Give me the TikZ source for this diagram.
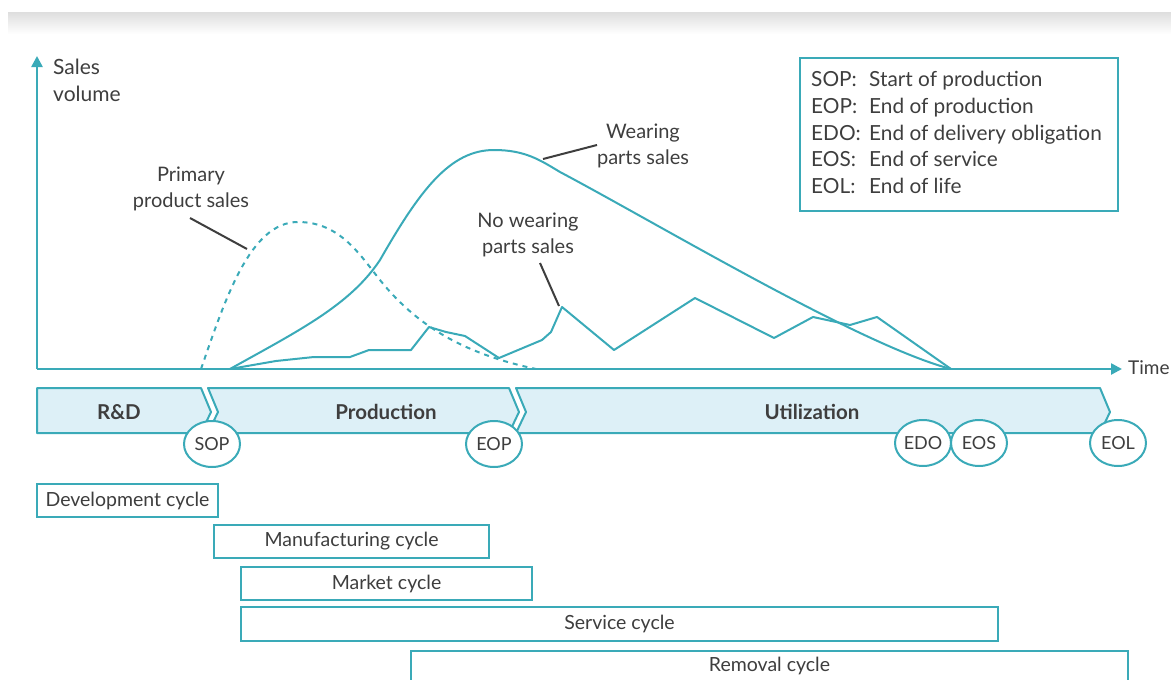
\documentclass[tikz,border=0pt]{standalone}
\usepackage{fontspec}
\setmainfont{Lato}
\usetikzlibrary{arrows.meta,shapes.geometric}
\definecolor{teal1}{RGB}{58,170,184}
\definecolor{bandfill}{RGB}{221,240,247}
\definecolor{txt}{RGB}{62,62,62}
\begin{document}
\begin{tikzpicture}[x=1pt,y=-1pt,
  curve/.style={draw=teal1, line width=2pt, line join=round},
  dashcurve/.style={draw=teal1, line width=2pt, dash pattern=on 5pt off 5pt},
  axis/.style={draw=teal1, line width=2.5pt, -{Triangle[width=11pt,length=11pt]}},
  leader/.style={draw=txt, line width=2pt},
  lbl/.style={text=txt, font=\fontsize{20}{26}\selectfont, align=center, inner sep=0pt},
  phase/.style={draw=teal1, fill=bandfill, line width=2pt, line join=round},
  phasetxt/.style={text=txt, font=\fontsize{20.5}{24}\selectfont\bfseries, inner sep=0pt},
  milestone/.style={ellipse, draw=teal1, line width=2pt, fill=white, minimum width=56pt, minimum height=46pt, inner sep=0pt, text=txt, font=\fontsize{18}{20}\selectfont},
  cyc/.style={draw=teal1, line width=2pt, fill=white, text=txt, font=\fontsize{19.5}{22}\selectfont, inner sep=0pt},
  legtxt/.style={text=txt, font=\fontsize{20.8}{24}\selectfont, inner sep=0pt, anchor=base west}
]
\useasboundingbox (0,0) rectangle (1171,680);
\shade[top color=black!13, bottom color=white] (8,12) rectangle (1171,34);

% axes
\coordinate (O) at (37,369);
\coordinate (ytip) at (37,56);
\coordinate (xtip) at (1122,369);
\draw[axis] (O) -- (ytip);
\draw[axis] (O) -- (xtip);
\node[lbl, anchor=west, font=\fontsize{19}{22}\selectfont] (time) at (1128,368) {Time};
\node[lbl, align=left, anchor=north west, font=\fontsize{21}{27}\selectfont] (sales) at (53,59) {Sales\\volume};

% legend
\node[draw=teal1, line width=2pt, minimum width=318pt, minimum height=153pt, anchor=north west] (legend) at (799,57) {};
\node[legtxt] (l1) at (811,86) {SOP:};
\node[legtxt] (d1) at (869,86) {Start of production};
\node[legtxt] (l2) at (811,113) {EOP:};
\node[legtxt] (d2) at (869,113) {End of production};
\node[legtxt] (l3) at (811,140) {EDO:};
\node[legtxt] (d3) at (869,140) {End of delivery obligation};
\node[legtxt] (l4) at (811,166) {EOS:};
\node[legtxt] (d4) at (869,166) {End of service};
\node[legtxt] (l5) at (811,193) {EOL:};
\node[legtxt] (d5) at (869,193) {End of life};

% curves
\draw[dashcurve] (201,369) .. controls (225,300) and (250,222) .. (298,222)
  .. controls (340,222) and (360,255) .. (380,280)
  .. controls (420,330) and (470,355) .. (536,369);
\draw[curve] (230,369) .. controls (300,330) and (350,305) .. (380,260)
  .. controls (420,190) and (450,150) .. (494,150)
  .. controls (525,150) and (540,160) .. (560,172)
  .. controls (660,225) and (860,345) .. (951,369);
\draw[curve] (230,369) -- (276,361) -- (314,357) -- (350,357) -- (369,350) -- (411,350)
  -- (429,327) -- (446,332) -- (465,336) -- (499,358) -- (542,340) -- (551,332)
  -- (562,307) -- (614,350) -- (695,298) -- (774,338) -- (813,317) -- (850,325)
  -- (877,317) -- (951,369);

% labels and leaders
\node[lbl] (primary) at (191,189) {Primary\\product sales};
\coordinate (pa) at (190,218);
\coordinate (pb) at (247,249);
\draw[leader] (pa) -- (pb);
\node[lbl] (wearing) at (643,146) {Wearing\\parts sales};
\coordinate (wa) at (597,145);
\coordinate (wb) at (543,159);
\draw[leader] (wa) -- (wb);
\node[lbl] (nowear) at (528,235) {No wearing\\parts sales};
\coordinate (na) at (540,263);
\coordinate (nb) at (559,306);
\draw[leader] (na) -- (nb);

% phase band
\draw[phase] (37,388) -- (201,388) -- (211,412) -- (201,433) -- (37,433) -- cycle;
\draw[phase] (208,388) -- (509,388) -- (519,412) -- (509,433) -- (208,433) -- (218,412) -- cycle;
\draw[phase] (516,388) -- (1100,388) -- (1110,412) -- (1100,433) -- (516,433) -- (526,412) -- cycle;
\node[phasetxt] (rd) at (119,412) {R\&D};
\node[phasetxt] (prod) at (386,412) {Production};
\node[phasetxt] (util) at (812,412) {Utilization};

% milestones
\node[milestone] (sop) at (212,444) {SOP};
\node[milestone] (eop) at (494,444) {EOP};
\node[milestone] (edo) at (923,443) {EDO};
\node[milestone] (eos) at (979,443) {EOS};
\node[milestone] (eol) at (1118,443) {EOL};

% cycles
\node[cyc, minimum width=181pt, minimum height=33pt] (dev) at (127.5,500.5) {Development cycle};
\node[cyc, minimum width=275pt, minimum height=33pt] (man) at (351.5,541.5) {Manufacturing cycle};
\node[cyc, minimum width=291pt, minimum height=33pt] (mar) at (386.5,583.5) {Market cycle};
\node[cyc, minimum width=757pt, minimum height=34pt] (ser) at (619.5,624) {Service cycle};
\node[cyc, minimum width=717pt, minimum height=30pt] (rem) at (769.5,666) {Removal cycle};
\end{tikzpicture}
\end{document}
